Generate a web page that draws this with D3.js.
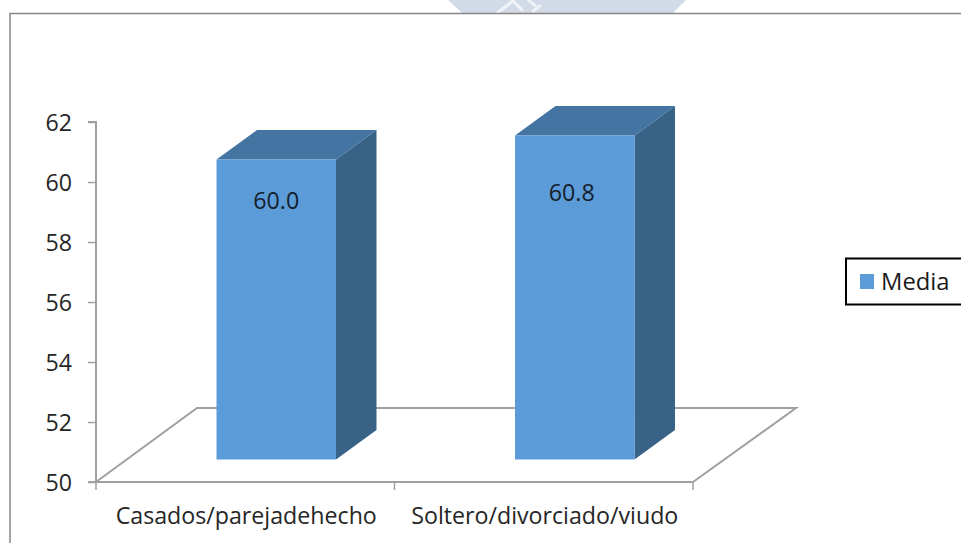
<!DOCTYPE html>
<html>
<head>
<meta charset="utf-8">
<script src="https://cdnjs.cloudflare.com/ajax/libs/d3/7.8.5/d3.min.js"></script>
<style>
  html, body { margin: 0; padding: 0; background: #fff; }
  svg { display: block; }
  text { font-family: "Open Sans", "Noto Sans", sans-serif; }
</style>
</head>
<body>
<div id="chart"></div>
<script>
const categories = ["Casados/parejadehecho", "Soltero/divorciado/viudo"];
const media = [60.0, 60.8];
const yTicks = [50, 52, 54, 56, 58, 60, 62];
const seriesName = "Media";

const width = 961, height = 543;
const axisX = 96, axisRight = 693;
const depth = { x: 101, y: -74 };      // floor depth
const barDepth = { x: 40.5, y: -29.5 };
const barInset = { x: 31, y: -22.5 };  // front face sits this far back from the axis plane
const barWidth = 119.5;
const fontSize = "23.2px";
const lineColor = "#a0a0a0";

// value labels were placed by hand, one per column
const labelShift = [{ x: 0, y: 49 }, { x: -3, y: 65 }];

const svg = d3.select("#chart").append("svg")
    .attr("width", width)
    .attr("height", height);

const y = d3.scaleLinear().domain([50, 62]).range([482, 122]);
const x = d3.scaleBand().domain(categories).range([axisX, axisRight]);

// band at the top edge of the page
svg.append("path")
    .attr("d", "M448,0L686,0L673,13L462,13Z")
    .attr("fill", "#d2d9e7");
svg.append("path")
    .attr("d", "M497,13L513,1L523,11M528,0L536,6M532,12L541,5")
    .attr("fill", "none")
    .attr("stroke", "#f1f3f8")
    .attr("stroke-width", 3);

// chart frame, open on the right and bottom
svg.append("path")
    .attr("d", `M10,${height}V13.5H${width}`)
    .attr("fill", "none")
    .attr("stroke", "#868686")
    .attr("stroke-width", 1.5);

// floor
const floorY = y(50);
svg.append("path")
    .attr("d", `M${axisX},${floorY}L${axisX + depth.x},${floorY + depth.y}H${axisRight + depth.x + 2}L${axisRight},${floorY}`)
    .attr("fill", "none")
    .attr("stroke", lineColor)
    .attr("stroke-width", 2);

// value axis
const yAxis = d3.axisLeft(y).tickValues(yTicks).tickSize(8).tickPadding(16);
const gy = svg.append("g")
    .attr("transform", `translate(${axisX},0)`)
    .call(yAxis);
gy.selectAll("path, line").attr("stroke", lineColor).attr("stroke-width", 1.5);
gy.select(".domain").attr("stroke-width", 2).attr("d", `M-8,${y(62)}H0V${y(50)}H-8`);
gy.selectAll("text")
    .attr("y", 1)
    .attr("fill", "#262626")
    .style("font-size", fontSize);

// category axis
const xAxis = d3.axisBottom(x).tickSize(8).tickFormat("").tickValues([]);
const gx = svg.append("g")
    .attr("transform", `translate(0,${floorY})`)
    .call(xAxis);
gx.select(".domain")
    .attr("d", `M${axisX},0H${axisRight}`)
    .attr("stroke", lineColor)
    .attr("stroke-width", 2);
gx.selectAll(".sep")
    .data([axisX, x(categories[1]), axisRight])
    .enter().append("line")
    .attr("class", "sep")
    .attr("x1", d => d).attr("x2", d => d)
    .attr("y1", 0).attr("y2", 8)
    .attr("stroke", lineColor)
    .attr("stroke-width", 1.5);
gx.selectAll(".cat")
    .data(categories)
    .enter().append("text")
    .attr("class", "cat")
    .attr("x", d => x(d) + x.bandwidth() / 2 + 1)
    .attr("y", 42)
    .attr("text-anchor", "middle")
    .attr("fill", "#262626")
    .style("font-size", fontSize)
    .text(d => d);

// 3D columns
const bars = svg.selectAll(".bar")
    .data(categories.map((c, i) => ({ cat: c, value: media[i], shift: labelShift[i] })))
    .enter().append("g")
    .attr("class", "bar");

const left = d => x(d.cat) + x.bandwidth() / 2 + barInset.x - barWidth / 2;
const top_ = d => y(d.value) + barInset.y;
const base = floorY + barInset.y;

bars.append("path")   // side
    .attr("d", d => {
        const r = left(d) + barWidth;
        return `M${r},${top_(d)}l${barDepth.x},${barDepth.y}V${base + barDepth.y}L${r},${base}Z`;
    })
    .attr("fill", "#386387");
bars.append("path")   // top
    .attr("d", d => {
        const l = left(d), t = top_(d);
        return `M${l},${t}l${barDepth.x},${barDepth.y}h${barWidth}l${-barDepth.x},${-barDepth.y}Z`;
    })
    .attr("fill", "#4475a2");
bars.append("rect")   // front
    .attr("x", left)
    .attr("y", top_)
    .attr("width", barWidth)
    .attr("height", d => base - top_(d))
    .attr("fill", "#5b9bd7");
bars.append("text")
    .attr("x", d => left(d) + barWidth / 2 + d.shift.x)
    .attr("y", d => top_(d) + d.shift.y)
    .attr("text-anchor", "middle")
    .attr("fill", "#14202c")
    .style("font-size", fontSize)
    .text(d => d.value.toFixed(1));

// legend
const legend = svg.append("g");
legend.append("rect")
    .attr("x", 846).attr("y", 258.5)
    .attr("width", 130).attr("height", 46)
    .attr("fill", "#fff")
    .attr("stroke", "#000")
    .attr("stroke-width", 2);
legend.append("rect")
    .attr("x", 860).attr("y", 274)
    .attr("width", 14).attr("height", 15)
    .attr("fill", "#5b9bd7");
legend.append("text")
    .attr("x", 881).attr("y", 290)
    .attr("fill", "#1c1c1c")
    .style("font-size", "23.8px")
    .text(seriesName);
</script>
</body>
</html>
